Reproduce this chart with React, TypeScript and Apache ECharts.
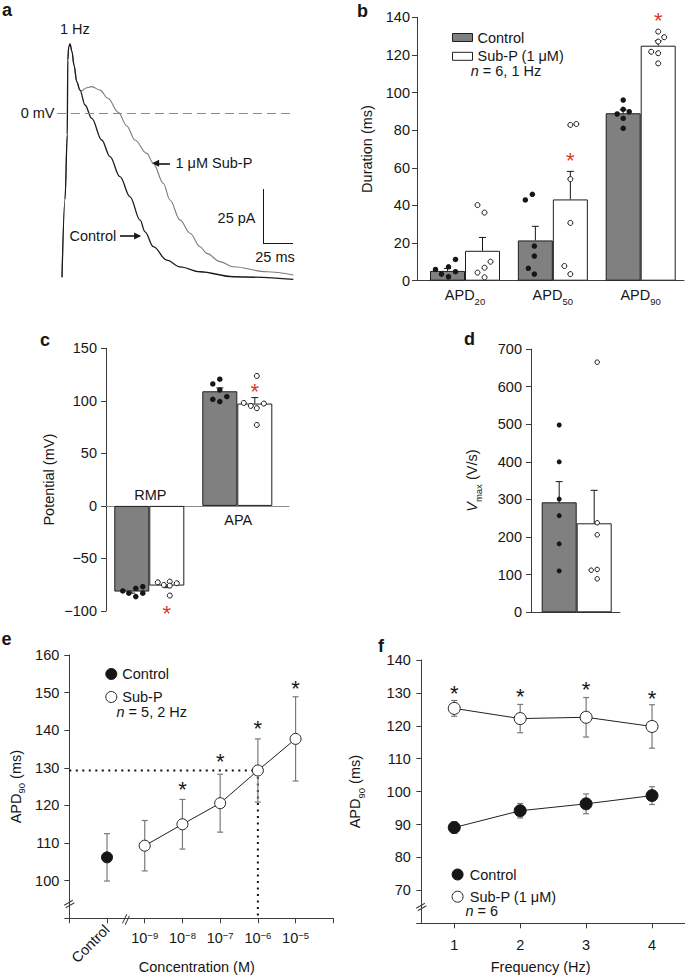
import React, { useEffect, useRef } from 'react';
import * as echarts from 'echarts';

// ---------- style constants ----------
const FONT = "'Liberation Sans', Arial, Helvetica, sans-serif";
const FS = 14.5;
const SUB_FS = 9.5;
const INK = '#161616';
const AXIS_C = '#3c3c3c';
const BAR_GRAY = '#808080';
const RED = '#d8382e';
const ERR_GRAY = '#7a7a7a';
const TRACE_GRAY = '#7a7a7a';
const STAR_FS = 22;
const STAR_DY = 5;

// ---------- Panel a: action potentials (time ms, potential mV) ----------
const TRACE_CONTROL = [
  [0, -76], [2.5, -40], [4.4, -10], [4.8, 24.5], [5.6, 30.6], [6.7, 32], [8.3, 28.4], [10, 22.2],
  [12.3, 14.5], [15, 10.6], [19.2, 3.7], [24.8, -2.5], [33.1, -12.5], [40, -20.2],
  [48.3, -29.5], [56.7, -38.8], [65, -49.5], [69.2, -55], [76.1, -61.9], [87.3, -68.1], [98.3, -71.2],
  [115, -73.5], [142.8, -75.8], [192.8, -77],
];
const TRACE_SUBP = [
  [0, -76], [2.5, -40], [4.4, -10], [4.8, 24.5], [5.6, 30.6], [6.7, 32], [8.3, 28.4], [10, 22.2],
  [12.3, 14.5], [15, 10.6], [16.4, 10.2], [20, 11.6], [24.8, 12.2], [31.7, 10.6], [38.3, 6.8],
  [46.9, 0.3], [54, -6], [60.8, -12.5], [70.6, -18.7], [76.1, -23.3], [84.4, -32.5], [90, -40.3],
  [98.3, -49.5], [106.7, -55.7], [115, -61.9], [120.6, -65], [131.7, -68.8], [142.8, -71.2],
  [170.6, -73.5], [192.8, -75],
];
const SCALE_MS = 25;
const SCALE_MV = 25;
// annotation anchors (data units of panel a)
const A_ZERO_LINE = [-4.2, 190];
const A_SCALE_CORNER = [167.5, -60.2];
const A_ARROW_SUBP = [[90, -23.3], [78, -23.3]];
const A_ARROW_CTRL = [[48.3, -56.9], [63, -56.9]];

// ---------- Panel b: APD (ms) ----------
const APD_LABELS = ['APD20', 'APD50', 'APD90'];
const B_CTRL_MEAN = [5.2, 21.4, 89.0];
const B_CTRL_SE = [1.3, 7.5, 1.8];
const B_SUBP_MEAN = [15.9, 43.2, 124.9];
const B_SUBP_SE = [7.1, 14.9, 2.6];
const B_CTRL_CELLS = [
  [6.0, 3.5, 7.4, 2.1, 4.8, 11.3],
  [42.9, 45.9, 18.4, 13.1, 6.6, 3.5],
  [96.0, 91.1, 88.6, 86.3, 89.8, 81.0],
];
const B_SUBP_CELLS = [
  [40.2, 36.2, 10.1, 6.9, 4.3, 1.8],
  [82.8, 83.3, 54.0, 30.7, 7.8, 3.5],
  [132.4, 129.4, 127.1, 121.7, 120.9, 115.5],
];
const B_SUBP_STARS = [null, 66.3, 140.7];

// ---------- Panel c: potentials (mV) ----------
const C_LABELS = ['RMP', 'APA'];
const C_CTRL_MEAN = [-81.5, 109.1];
const C_CTRL_SE = [1.5, 3.2];
const C_SUBP_MEAN = [-75.8, 97.4];
const C_SUBP_SE = [2.0, 5.7];
const C_CTRL_CELLS = [
  [-80.9, -83.1, -86.3, -78.4, -83.1, -76.8],
  [116.1, 120.6, 110.4, 101.5, 99.3, 104.1],
];
const C_SUBP_CELLS = [
  [-72.7, -75.2, -72.0, -75.8, -73.6, -85.3],
  [123.7, 98.0, 95.2, 93.0, 97.4, 77.1],
];
const C_SUBP_STARS = [-97.4, 113.6];

// ---------- Panel d: Vmax (V/s) ----------
const D_CTRL_MEAN = [292.4];
const D_CTRL_SE = [55];
const D_SUBP_MEAN = [236.6];
const D_SUBP_SE = [87.7];
const D_CTRL_CELLS = [[498, 400, 301, 257, 182, 110]];
const D_SUBP_CELLS = [[665, 238, 206, 112, 114, 89]];

// ---------- Panel e: concentration response ----------
const E_CTRL_LABEL = 'Control';
const E_CTRL_MEAN = 106.2;
const E_CTRL_SE = 6.3;
const E_EXP = [-9, -8, -7, -6, -5];
const E_SUBP_MEAN = [109.3, 115.0, 120.6, 129.3, 137.7];
const E_SUBP_SE = [6.7, 6.6, 7.7, 8.4, 11.2];
const E_STARS = [null, 125.5, 133.0, 141.7, 152.5];
const E_EC_INDEX = 3; // 10^-6 M

// ---------- Panel f: frequency dependence ----------
const F_FREQ = ['1', '2', '3', '4'];
const F_CTRL_MEAN = [89.1, 94.2, 96.3, 98.8];
const F_CTRL_SE = [1.8, 2.2, 3.0, 2.7];
const F_SUBP_MEAN = [125.3, 122.2, 122.6, 119.8];
const F_SUBP_SE = [2.4, 4.3, 6.0, 6.6];
const F_STARS = [131.4, 130.4, 132.7, 129.9];

// ---------- layout-only constants (px) ----------
const BW = 35; // bar width
const B_JIT_CTRL = [[-12, -6, 1, 1, 8, 8], [-10, -3, -1, -1, -7, -1], [0, 0, -6, 0, 6, 0]];
const B_JIT_SUBP = [[-5, 2, 8, 2, -5, 2], [0, 6, 0, 0, -6, 0], [0, 6, 0, -7, 0, 0]];
const C_JIT_CTRL = [[-9, -3, 4, 4, 11, 11], [-7, 0, 0, -7, 0, 7]];
const C_JIT_SUBP = [[-9, -3, 3, 3, 10, 3], [2, -11, -4, 2, 9, 2]];
const D_JIT_CTRL = [[0, 0, 0, 0, 0, 0]];
const D_JIT_SUBP = [[3, 3, 3, -3, 3, 3]];

const RICH: any = {
  sub: { fontSize: SUB_FS, fontFamily: FONT, color: INK, padding: [12, 0, 0, 0] },
  sup: { fontSize: SUB_FS, fontFamily: FONT, color: INK, padding: [0, 0, 6, 0] },
  it: { fontSize: FS, fontFamily: FONT, color: INK, fontStyle: 'italic' },
};

const fmtNum = (v: number) => (v < 0 ? '\u2212' + Math.abs(v) : String(v));
const strip = (n: string) => n.replace(/ \[[a-f]\]$/, '');

function yAx(gridIndex: number, min: number, max: number, interval: number, o: any = {}) {
  return {
    type: 'value', gridIndex, min, max, interval,
    axisLine: { show: true, onZero: false, lineStyle: { color: AXIS_C, width: 1 } },
    axisTick: { show: true, length: 5, lineStyle: { color: AXIS_C, width: 1 } },
    axisLabel: { show: true, margin: o.margin ?? 8, fontSize: FS, fontFamily: FONT, color: INK, formatter: o.formatter ?? fmtNum },
    splitLine: { show: false },
    name: o.name, nameLocation: 'middle', nameGap: o.nameGap,
    nameTextStyle: { fontSize: FS, fontFamily: FONT, color: INK, rich: RICH },
  };
}
function xFrame(gridIndex: number, min: number, max: number, onZero = false, color = AXIS_C) {
  return {
    type: 'value', gridIndex, min, max,
    axisLine: { show: true, onZero, lineStyle: { color, width: 1 } },
    axisTick: { show: false }, axisLabel: { show: false }, splitLine: { show: false },
  };
}
function hiddenAx(gridIndex: number, min: number, max: number) {
  return { type: 'value', gridIndex, min, max, show: false, splitLine: { show: false } };
}

function cellDots(values: number[][], jit: number[][], side: number) {
  const out: any[] = [];
  values.forEach((arr, i) =>
    arr.forEach((v, k) => out.push({ value: [i, v], symbolOffset: [side * BW / 2 + (jit[i]?.[k] ?? 0), 0] })));
  return out;
}
function dotSeries(xi: number, yi: number, data: any[], filled: boolean, size: number) {
  return {
    type: 'scatter', xAxisIndex: xi, yAxisIndex: yi, silent: true, z: 5,
    symbol: 'circle', symbolSize: size, data,
    itemStyle: filled ? { color: INK, borderWidth: 0, opacity: 1 } : { color: '#fff', borderColor: INK, borderWidth: 1, opacity: 1 },
  };
}
function barSeries(name: string, xi: number, yi: number, means: number[], fill: string) {
  return {
    type: 'bar', name, xAxisIndex: xi, yAxisIndex: yi, barWidth: BW, barGap: '0%', z: 2, silent: true,
    data: means.map((v, i) => [i, v]),
    itemStyle: { color: fill, borderColor: '#1e1e1e', borderWidth: 1 },
  };
}
function errSeries(xi: number, yi: number, items: number[][], dx: number, color: string, capW: number, both: boolean, lw = 1) {
  return {
    type: 'custom', xAxisIndex: xi, yAxisIndex: yi, silent: true, z: 3,
    data: items, encode: { x: 0, y: [1, 2] },
    renderItem: (_p: any, api: any) => {
      const x = api.value(0);
      const a = api.coord([x, api.value(1)]);
      const b = api.coord([x, api.value(2)]);
      const cx = a[0] + dx;
      const st = { stroke: color, lineWidth: lw };
      const ch: any[] = [
        { type: 'line', shape: { x1: cx, y1: a[1], x2: cx, y2: b[1] }, style: st },
        { type: 'line', shape: { x1: cx - capW / 2, y1: b[1], x2: cx + capW / 2, y2: b[1] }, style: st },
      ];
      if (both) ch.push({ type: 'line', shape: { x1: cx - capW / 2, y1: a[1], x2: cx + capW / 2, y2: a[1] }, style: st });
      return { type: 'group', children: ch };
    },
  };
}
function barErrItems(means: number[], se: number[]) {
  return means.map((m, i) => [i, m, m < 0 ? m - se[i] : m + se[i]]);
}
function symErrItems(xs: number[], means: number[], se: number[]) {
  return means.map((m, i) => [xs[i], m - se[i], m + se[i]]);
}
function textSeries(xi: number, yi: number, items: any[], color: string, size: number) {
  // items: [x, y, text, dx, dy]
  return {
    type: 'custom', xAxisIndex: xi, yAxisIndex: yi, silent: true, z: 6,
    data: items.map((it) => [it[0], it[1]]),
    renderItem: (p: any, api: any) => {
      const it = items[p.dataIndex];
      const c = api.coord([api.value(0), api.value(1)]);
      return {
        type: 'text', x: c[0] + it[3], y: c[1] + it[4],
        style: {
          text: it[2], fill: color, font: `${size}px ${FONT}`,
          align: 'center', verticalAlign: 'middle', textAlign: 'center', textVerticalAlign: 'middle',
        },
      };
    },
  };
}
function starItems(xs: number[], ys: (number | null)[], dx: number) {
  const out: any[] = [];
  ys.forEach((y, i) => { if (y != null) out.push([xs[i], y, '*', dx, STAR_DY]); });
  return out;
}

function gText(text: string, x: number, y: number, o: any = {}) {
  const size = o.size ?? FS;
  const style: any = {
    text, fill: INK, font: `${o.weight ?? 'normal'} ${size}px ${FONT}`,
    align: o.align ?? 'left', textAlign: o.align ?? 'left', verticalAlign: 'middle', textVerticalAlign: 'middle',
  };
  if (o.rich) style.rich = o.rich;
  return { type: 'text', x, y, silent: true, z: 10, style };
}
function breakMark(cx: number, cy: number, deg: number, len: number, gap: number) {
  const st = { stroke: AXIS_C, lineWidth: 1 };
  return {
    type: 'group', x: cx, y: cy, rotation: (deg * Math.PI) / 180, z: 10, silent: true,
    children: [
      { type: 'rect', shape: { x: -len / 2, y: -gap / 2, width: len, height: gap }, style: { fill: '#fff' } },
      { type: 'line', shape: { x1: -len / 2, y1: -gap / 2, x2: len / 2, y2: -gap / 2 }, style: st },
      { type: 'line', shape: { x1: -len / 2, y1: gap / 2, x2: len / 2, y2: gap / 2 }, style: st },
    ],
  };
}

function buildOption(): any {
  const italicRich = { i: { font: `italic ${FS}px ${FONT}`, fill: INK } };
  const ecX = E_EXP.map((_, i) => i + 1);
  const ecY = E_SUBP_MEAN[E_EC_INDEX];
  const fX = F_FREQ.map((_, i) => i);

  const series: any[] = [
    // ---- a ----
    {
      type: 'line', name: 'trace-control', xAxisIndex: 0, yAxisIndex: 0, data: TRACE_CONTROL, symbol: 'none',
      smooth: 0.35, smoothMonotone: 'x', z: 3, silent: true,
      lineStyle: { color: '#1b1b1b', width: 1.3 },
      markLine: {
        silent: true, symbol: ['none', 'none'], label: { show: false },
        lineStyle: { color: INK, width: 1, type: 'solid' },
        emphasis: { disabled: true },
        data: [
          [
            { coord: [A_ZERO_LINE[0], 0], lineStyle: { color: '#8a8a8a', type: [9, 5], width: 1 } },
            { coord: [A_ZERO_LINE[1], 0], lineStyle: { color: '#8a8a8a', type: [9, 5], width: 1 } },
          ],
          [
            { coord: [A_SCALE_CORNER[0], A_SCALE_CORNER[1] + SCALE_MV] },
            { coord: [A_SCALE_CORNER[0], A_SCALE_CORNER[1]] },
          ],
          [
            { coord: [A_SCALE_CORNER[0], A_SCALE_CORNER[1]] },
            { coord: [A_SCALE_CORNER[0] + SCALE_MS, A_SCALE_CORNER[1]] },
          ],
          [
            { coord: A_ARROW_SUBP[0], lineStyle: { width: 1.6, color: INK } },
            { coord: A_ARROW_SUBP[1], symbol: 'triangle', symbolSize: [7, 7], lineStyle: { width: 1.6, color: INK } },
          ],
          [
            { coord: A_ARROW_CTRL[0], lineStyle: { width: 1.6, color: INK } },
            { coord: A_ARROW_CTRL[1], symbol: 'triangle', symbolSize: [7, 7], lineStyle: { width: 1.6, color: INK } },
          ],
        ],
      },
    },
    {
      type: 'line', name: 'trace-subp', xAxisIndex: 0, yAxisIndex: 0, data: TRACE_SUBP, symbol: 'none',
      smooth: 0.35, smoothMonotone: 'x', z: 2, silent: true,
      lineStyle: { color: TRACE_GRAY, width: 1.1 },
    },

    // ---- b ----
    barSeries('Control [b]', 1, 1, B_CTRL_MEAN, BAR_GRAY),
    barSeries('Sub-P (1 μM) [b]', 1, 1, B_SUBP_MEAN, '#ffffff'),
    errSeries(1, 1, barErrItems(B_CTRL_MEAN, B_CTRL_SE), -BW / 2, INK, 7, false),
    errSeries(1, 1, barErrItems(B_SUBP_MEAN, B_SUBP_SE), BW / 2, INK, 7, false),
    dotSeries(1, 1, cellDots(B_CTRL_CELLS, B_JIT_CTRL, -1), true, 5.5),
    dotSeries(1, 1, cellDots(B_SUBP_CELLS, B_JIT_SUBP, 1), false, 5),
    textSeries(1, 1, starItems([0, 1, 2], B_SUBP_STARS, BW / 2), RED, STAR_FS),

    // ---- c ----
    barSeries('c-control', 3, 3, C_CTRL_MEAN, BAR_GRAY),
    barSeries('c-subp', 3, 3, C_SUBP_MEAN, '#ffffff'),
    errSeries(3, 3, barErrItems(C_CTRL_MEAN, C_CTRL_SE), -BW / 2, INK, 7, false),
    errSeries(3, 3, barErrItems(C_SUBP_MEAN, C_SUBP_SE), BW / 2, INK, 7, false),
    dotSeries(3, 3, cellDots(C_CTRL_CELLS, C_JIT_CTRL, -1), true, 5.5),
    dotSeries(3, 3, cellDots(C_SUBP_CELLS, C_JIT_SUBP, 1), false, 5),
    textSeries(3, 3, starItems([0, 1], C_SUBP_STARS, BW / 2), RED, STAR_FS),
    textSeries(3, 3, C_LABELS.map((l, i) => [i, 0, l, 1, C_CTRL_MEAN[i] < 0 ? -11 : 14]), INK, FS),

    // ---- d ----
    barSeries('d-control', 4, 4, D_CTRL_MEAN, BAR_GRAY),
    barSeries('d-subp', 4, 4, D_SUBP_MEAN, '#ffffff'),
    errSeries(4, 4, barErrItems(D_CTRL_MEAN, D_CTRL_SE), -BW / 2, INK, 7, false),
    errSeries(4, 4, barErrItems(D_SUBP_MEAN, D_SUBP_SE), BW / 2, INK, 7, false),
    dotSeries(4, 4, cellDots(D_CTRL_CELLS, D_JIT_CTRL, -1), true, 5),
    dotSeries(4, 4, cellDots(D_SUBP_CELLS, D_JIT_SUBP, 1), false, 4.5),

    // ---- e ----
    {
      type: 'line', name: 'ec50-guide', xAxisIndex: 5, yAxisIndex: 5, silent: true, z: 1, symbol: 'none',
      data: [[-1, ecY], [ecX[E_EC_INDEX], ecY], [ecX[E_EC_INDEX], 90]],
      lineStyle: { color: '#111', width: 2, type: [2, 4.5] },
    },
    errSeries(5, 5, [[0, E_CTRL_MEAN - E_CTRL_SE, E_CTRL_MEAN + E_CTRL_SE]], 0, ERR_GRAY, 6, true, 1.2),
    errSeries(5, 5, symErrItems(ecX, E_SUBP_MEAN, E_SUBP_SE), 0, ERR_GRAY, 6, true, 1.2),
    {
      type: 'scatter', name: 'Control [e]', xAxisIndex: 5, yAxisIndex: 5, silent: true, z: 5,
      symbol: 'circle', symbolSize: 11, data: [[0, E_CTRL_MEAN]],
      itemStyle: { color: INK, borderColor: INK, borderWidth: 1, opacity: 1 },
    },
    {
      type: 'line', name: 'Sub-P [e]', xAxisIndex: 5, yAxisIndex: 5, silent: true, z: 4,
      symbol: 'circle', symbolSize: 11, showAllSymbol: true,
      data: E_SUBP_MEAN.map((v, i) => [ecX[i], v]),
      lineStyle: { color: '#222', width: 1 },
      itemStyle: { color: '#fff', borderColor: '#222', borderWidth: 1 },
    },
    textSeries(5, 5, starItems(ecX, E_STARS, 0), INK, STAR_FS),

    // ---- f ----
    errSeries(7, 6, symErrItems(fX, F_CTRL_MEAN, F_CTRL_SE), 0, ERR_GRAY, 6, true, 1.2),
    errSeries(7, 6, symErrItems(fX, F_SUBP_MEAN, F_SUBP_SE), 0, ERR_GRAY, 6, true, 1.2),
    {
      type: 'line', name: 'Control [f]', xAxisIndex: 7, yAxisIndex: 6, silent: true, z: 4,
      symbol: 'circle', symbolSize: 12, data: F_CTRL_MEAN,
      lineStyle: { color: '#222', width: 1 },
      itemStyle: { color: INK, borderColor: INK, borderWidth: 1 },
    },
    {
      type: 'line', name: 'Sub-P (1 μM) [f]', xAxisIndex: 7, yAxisIndex: 6, silent: true, z: 4,
      symbol: 'circle', symbolSize: 12, data: F_SUBP_MEAN,
      lineStyle: { color: '#222', width: 1 },
      itemStyle: { color: '#fff', borderColor: '#222', borderWidth: 1 },
    },
    textSeries(7, 6, starItems(fX, F_STARS, 0), INK, STAR_FS),
  ];

  const legendBase = {
    orient: 'vertical', selectedMode: false, formatter: strip,
    textStyle: { fontSize: FS, fontFamily: FONT, color: INK },
  };

  return {
    animation: false,
    backgroundColor: '#ffffff',
    textStyle: { fontFamily: FONT, fontSize: FS, color: INK },
    grid: [
      { left: 56, top: 26.6, width: 246, height: 259.2 }, // a
      { left: 417, top: 17.3, width: 267, height: 263.4 }, // b frame
      { left: 421.1, top: 17.3, width: 263.4, height: 263.4 }, // b labels
      { left: 106, top: 348.3, width: 183, height: 262.7 }, // c
      { left: 531, top: 349, width: 89, height: 263.3 }, // d
      { left: 69.3, top: 655, width: 264, height: 263.3 }, // e
      { left: 421.3, top: 660, width: 263.7, height: 263.3 }, // f
    ],
    xAxis: [
      hiddenAx(0, -5, 200),
      xFrame(1, -0.5464, 2.4929),
      {
        type: 'category', gridIndex: 2, data: APD_LABELS, boundaryGap: true,
        axisLine: { show: false }, axisTick: { show: false }, splitLine: { show: false },
        axisLabel: {
          interval: 0, margin: 3.5, fontSize: FS, fontFamily: FONT, color: INK, rich: RICH,
          formatter: (v: string) => v.replace(/^APD(\d+)$/, 'APD{sub|$1}'),
        },
      },
      xFrame(3, -0.492, 1.5875, true, '#8a8a8a'),
      xFrame(4, -0.5193, 0.4921),
      {
        type: 'value', gridIndex: 5, min: -1, max: 6, interval: 1, position: 'bottom',
        axisLine: { show: true, onZero: false, lineStyle: { color: AXIS_C, width: 1 } },
        axisTick: { show: true, length: 5, lineStyle: { color: AXIS_C, width: 1 } },
        splitLine: { show: false },
        axisLabel: {
          margin: 12, fontSize: FS, fontFamily: FONT, color: INK, rich: RICH,
          formatter: (v: number) => (v >= 1 && v <= E_EXP.length ? `10{sup|${fmtNum(E_EXP[v - 1])}}` : ''),
        },
        name: 'Concentration (M)', nameLocation: 'middle', nameGap: 41.5,
        nameTextStyle: { fontSize: FS, fontFamily: FONT, color: INK, padding: [0, 9, 0, 0] },
      },
      {
        type: 'value', gridIndex: 5, min: -1, max: 6, interval: 1, position: 'bottom',
        axisLine: { show: false, onZero: false }, axisTick: { show: false }, splitLine: { show: false },
        axisLabel: {
          rotate: 45, margin: 9, fontSize: FS, fontFamily: FONT, color: INK,
          formatter: (v: number) => (v === 0 ? E_CTRL_LABEL : ''),
        },
      },
      {
        type: 'category', gridIndex: 6, data: F_FREQ, boundaryGap: true,
        axisLine: { show: true, onZero: false, lineStyle: { color: AXIS_C, width: 1 } },
        axisTick: { show: true, alignWithLabel: true, length: 5, lineStyle: { color: AXIS_C, width: 1 } },
        splitLine: { show: false },
        axisLabel: { interval: 0, margin: 14.5, fontSize: FS, fontFamily: FONT, color: INK },
        name: 'Frequency (Hz)', nameLocation: 'middle', nameGap: 36.5,
        nameTextStyle: { fontSize: FS, fontFamily: FONT, color: INK, padding: [0, 25, 0, 0] },
      },
    ],
    yAxis: [
      hiddenAx(0, -80, 40),
      yAx(1, 0, 140, 20, { margin: 7, name: 'Duration (ms)', nameGap: 43 }),
      hiddenAx(2, 0, 1),
      yAx(3, -100, 150, 50, { margin: 9, name: 'Potential (mV)', nameGap: 50 }),
      yAx(4, 0, 700, 100, { margin: 9, name: '{it|V}{sub|max} (V/s)', nameGap: 48 }),
      yAx(5, 90, 160, 10, { margin: 10, name: 'APD{sub|90} (ms)', nameGap: 42.5, formatter: (v: number) => (v === 90 ? '' : String(v)) }),
      yAx(6, 60, 140, 10, { margin: 10.5, name: 'APD{sub|90} (ms)', nameGap: 55, formatter: (v: number) => (v === 60 ? '' : String(v)) }),
    ],
    legend: [
      {
        ...legendBase, left: 447, top: 25, itemWidth: 20, itemHeight: 8, itemGap: 3.8,
        data: [
          { name: 'Control [b]', icon: 'rect', itemStyle: { color: BAR_GRAY, borderColor: '#1e1e1e', borderWidth: 1 } },
          { name: 'Sub-P (1 μM) [b]', icon: 'rect', itemStyle: { color: '#fff', borderColor: '#1e1e1e', borderWidth: 1 } },
        ],
      },
      {
        ...legendBase, left: 100.3, top: 661.5, itemWidth: 12, itemHeight: 11, itemGap: 8,
        data: [
          { name: 'Control [e]', icon: 'circle', itemStyle: { color: INK, borderColor: INK, borderWidth: 1, opacity: 1 } },
          { name: 'Sub-P [e]', icon: 'circle', itemStyle: { color: '#fff', borderColor: '#222', borderWidth: 1 } },
        ],
      },
      {
        ...legendBase, left: 446.6, top: 862, itemWidth: 14.4, itemHeight: 11, itemGap: 7.2,
        data: [
          { name: 'Control [f]', icon: 'circle', itemStyle: { color: INK, borderColor: INK, borderWidth: 1 } },
          { name: 'Sub-P (1 μM) [f]', icon: 'circle', itemStyle: { color: '#fff', borderColor: '#222', borderWidth: 1 } },
        ],
      },
    ],
    series,
    graphic: {
      elements: [
        gText('a', 2, 9.6, { size: 18, weight: 'bold' }),
        gText('b', 357, 10.5, { size: 18, weight: 'bold' }),
        gText('c', 40, 340, { size: 18, weight: 'bold' }),
        gText('d', 464, 339, { size: 18, weight: 'bold' }),
        gText('e', 1.5, 638.5, { size: 18, weight: 'bold' }),
        gText('f', 378, 646, { size: 18, weight: 'bold' }),
        gText('1 Hz', 60, 29),
        gText('0 mV', 54.5, 113, { align: 'right' }),
        gText('1 μM Sub-P', 175.5, 163.3),
        gText('Control', 69.5, 235.8),
        gText('25 pA', 255.5, 218.3, { align: 'right' }),
        gText('25 ms', 275, 256.7, { align: 'center' }),
        gText('{i|n} = 6, 1 Hz', 470.7, 70.5, { rich: italicRich }),
        gText('{i|n} = 5, 2 Hz', 116.5, 711.5, { rich: italicRich }),
        gText('{i|n} = 6', 465.5, 911, { rich: italicRich }),
        breakMark(69.3, 904, 30, 10, 3),
        breakMark(126, 919.5, 65, 10, 3),
        breakMark(421.3, 907, 30, 10, 3),
      ],
    },
  };
}

export default function App() {
  const ref = useRef<HTMLDivElement>(null);
  useEffect(() => {
    if (!ref.current) return;
    const chart = echarts.init(ref.current, null, { renderer: 'svg' });
    chart.setOption(buildOption());
    return () => chart.dispose();
  }, []);
  return (
    <div
      ref={ref}
      style={{ position: 'absolute', left: 0, top: 0, width: 685, height: 976, background: '#fff' }}
    />
  );
}
